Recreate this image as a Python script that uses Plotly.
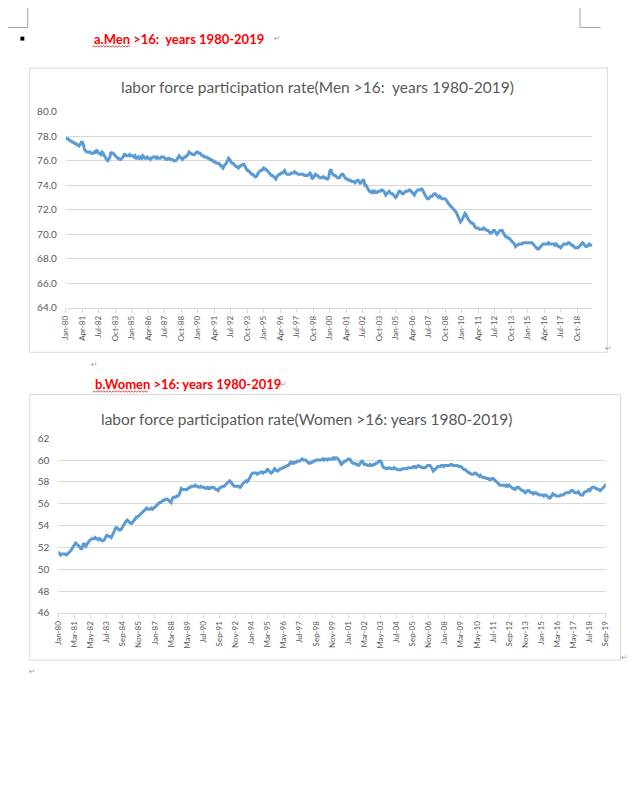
import plotly.graph_objects as go

W, H = 637, 785
OFF = 8  # page body margin that offsets the figure inside the browser window

MONTHS = ["Jan", "Feb", "Mar", "Apr", "May", "Jun", "Jul", "Aug", "Sep", "Oct", "Nov", "Dec"]
YEARS = list(range(1980, 2020))

# Labor force participation rate, men 16+ (monthly, Jan-1980 .. Dec-2019)
men_lfpr = [
    77.9, 77.8, 77.8, 77.7, 77.6, 77.6, 77.5, 77.5, 77.4, 77.4, 77.3, 77.3,  # 1980
    77.2, 77.3, 77.5, 77.5, 77.3, 76.9, 76.8, 76.7, 76.7, 76.7, 76.7, 76.6,  # 1981
    76.6, 76.6, 76.7, 76.6, 76.9, 76.7, 76.6, 76.6, 76.5, 76.7, 76.6, 76.4,  # 1982
    76.2, 76.1, 76.0, 76.1, 76.3, 76.7, 76.6, 76.6, 76.5, 76.4, 76.3, 76.2,  # 1983
    76.2, 76.1, 76.1, 76.2, 76.3, 76.5, 76.5, 76.4, 76.4, 76.4, 76.5, 76.4,  # 1984
    76.4, 76.4, 76.3, 76.4, 76.2, 76.2, 76.3, 76.2, 76.3, 76.2, 76.4, 76.3,  # 1985
    76.2, 76.2, 76.3, 76.2, 76.2, 76.1, 76.2, 76.3, 76.3, 76.3, 76.2, 76.3,  # 1986
    76.2, 76.2, 76.2, 76.3, 76.3, 76.3, 76.2, 76.1, 76.1, 76.2, 76.2, 76.1,  # 1987
    76.1, 76.1, 76.0, 76.0, 76.0, 76.1, 76.3, 76.4, 76.3, 76.2, 76.1, 76.2,  # 1988
    76.3, 76.3, 76.4, 76.5, 76.7, 76.6, 76.6, 76.5, 76.5, 76.5, 76.6, 76.7,  # 1989
    76.7, 76.6, 76.6, 76.5, 76.4, 76.4, 76.3, 76.3, 76.3, 76.2, 76.2, 76.1,  # 1990
    76.1, 76.0, 76.0, 75.9, 75.9, 75.8, 75.8, 75.8, 75.7, 75.6, 75.5, 75.4,  # 1991
    75.6, 75.7, 75.8, 76.0, 76.2, 76.1, 75.9, 75.8, 75.8, 75.7, 75.6, 75.5,  # 1992
    75.5, 75.4, 75.5, 75.6, 75.6, 75.7, 75.7, 75.5, 75.3, 75.2, 75.2, 75.1,  # 1993
    75.0, 74.9, 74.9, 74.8, 74.7, 74.7, 74.8, 75.0, 75.1, 75.2, 75.2, 75.3,  # 1994
    75.4, 75.3, 75.3, 75.2, 75.1, 75.0, 74.9, 74.8, 74.8, 74.7, 74.6, 74.5,  # 1995
    74.7, 74.8, 74.9, 74.9, 75.0, 75.0, 75.1, 75.2, 75.0, 74.9, 74.9, 74.9,  # 1996
    74.9, 75.0, 75.0, 75.0, 75.1, 75.0, 75.0, 74.9, 74.9, 74.9, 74.9, 74.9,  # 1997
    74.9, 74.8, 74.8, 74.8, 74.8, 74.9, 75.0, 74.9, 74.5, 74.6, 74.8, 74.9,  # 1998
    74.8, 74.8, 74.7, 74.6, 74.6, 74.6, 74.7, 74.6, 74.6, 74.5, 74.5, 74.6,  # 1999
    75.1, 75.3, 75.0, 74.9, 74.8, 74.8, 74.7, 74.6, 74.6, 74.6, 74.8, 74.9,  # 2000
    74.9, 74.7, 74.6, 74.5, 74.5, 74.4, 74.4, 74.4, 74.3, 74.3, 74.3, 74.2,  # 2001
    74.3, 74.4, 74.4, 74.2, 74.1, 74.3, 74.4, 74.4, 74.0, 74.0, 73.8, 73.6,  # 2002
    73.5, 73.5, 73.4, 73.5, 73.4, 73.5, 73.4, 73.4, 73.5, 73.5, 73.5, 73.6,  # 2003
    73.6, 73.5, 73.4, 73.2, 73.3, 73.4, 73.5, 73.4, 73.3, 73.3, 73.2, 73.1,  # 2004
    73.0, 73.1, 73.3, 73.5, 73.5, 73.4, 73.3, 73.3, 73.4, 73.5, 73.5, 73.5,  # 2005
    73.6, 73.6, 73.5, 73.4, 73.3, 73.2, 73.4, 73.5, 73.6, 73.6, 73.6, 73.7,  # 2006
    73.7, 73.5, 73.3, 73.2, 73.0, 72.9, 72.9, 73.0, 73.1, 73.1, 73.2, 73.3,  # 2007
    73.3, 73.2, 73.1, 73.0, 73.1, 73.0, 72.9, 72.9, 72.9, 72.9, 72.8, 72.6,  # 2008
    72.5, 72.4, 72.3, 72.2, 72.1, 72.0, 71.9, 71.8, 71.6, 71.4, 71.2, 71.0,  # 2009
    71.1, 71.3, 71.5, 71.7, 71.6, 71.3, 71.2, 71.1, 71.0, 70.9, 70.9, 70.8,  # 2010
    70.6, 70.5, 70.5, 70.5, 70.4, 70.4, 70.4, 70.4, 70.5, 70.4, 70.4, 70.3,  # 2011
    70.3, 70.2, 70.1, 70.1, 70.2, 70.3, 70.3, 70.1, 70.0, 70.1, 70.2, 70.3,  # 2012
    70.3, 70.3, 70.1, 69.9, 69.8, 69.8, 69.7, 69.7, 69.6, 69.5, 69.4, 69.3,  # 2013
    69.2, 69.0, 69.1, 69.1, 69.2, 69.2, 69.2, 69.2, 69.3, 69.3, 69.3, 69.3,  # 2014
    69.3, 69.3, 69.3, 69.3, 69.3, 69.2, 69.1, 69.0, 68.9, 68.8, 68.8, 68.9,  # 2015
    69.0, 69.1, 69.2, 69.2, 69.2, 69.2, 69.2, 69.3, 69.2, 69.2, 69.2, 69.2,  # 2016
    69.2, 69.1, 69.2, 69.1, 69.0, 69.0, 68.9, 69.0, 69.1, 69.2, 69.2, 69.2,  # 2017
    69.2, 69.3, 69.3, 69.2, 69.1, 69.1, 69.0, 68.9, 68.9, 68.9, 68.9, 69.0,  # 2018
    69.1, 69.2, 69.3, 69.2, 69.1, 69.0, 69.0, 69.1, 69.2, 69.1, 69.1, 69.1,  # 2019
]

# Labor force participation rate, women 16+ (monthly, Jan-1980 .. Sep-2019)
women_lfpr = [
    51.6, 51.4, 51.3, 51.4, 51.4, 51.4, 51.4, 51.3, 51.4, 51.5, 51.6, 51.7,  # 1980
    51.9, 52.1, 52.2, 52.4, 52.3, 52.2, 52.1, 52.0, 51.8, 52.0, 52.4, 52.2,  # 1981
    52.1, 52.3, 52.5, 52.6, 52.7, 52.8, 52.8, 52.8, 52.9, 52.8, 52.8, 52.7,  # 1982
    52.8, 52.7, 52.6, 52.6, 52.7, 52.9, 53.1, 53.1, 53.0, 53.0, 52.9, 53.1,  # 1983
    53.3, 53.5, 53.8, 53.8, 53.7, 53.6, 53.6, 53.7, 53.9, 54.1, 54.3, 54.4,  # 1984
    54.5, 54.4, 54.3, 54.2, 54.2, 54.4, 54.5, 54.6, 54.8, 54.8, 54.9, 55.0,  # 1985
    55.1, 55.2, 55.3, 55.4, 55.5, 55.6, 55.5, 55.5, 55.5, 55.6, 55.5, 55.6,  # 1986
    55.7, 55.8, 55.9, 56.0, 56.1, 56.1, 56.2, 56.3, 56.3, 56.4, 56.4, 56.4,  # 1987
    56.3, 56.2, 56.1, 56.4, 56.6, 56.6, 56.6, 56.7, 56.7, 56.8, 57.1, 57.4,  # 1988
    57.3, 57.3, 57.3, 57.3, 57.3, 57.4, 57.5, 57.5, 57.6, 57.6, 57.6, 57.7,  # 1989
    57.6, 57.6, 57.5, 57.5, 57.6, 57.5, 57.5, 57.5, 57.4, 57.4, 57.5, 57.4,  # 1990
    57.4, 57.5, 57.5, 57.5, 57.4, 57.3, 57.3, 57.2, 57.4, 57.5, 57.5, 57.6,  # 1991
    57.6, 57.7, 57.8, 57.9, 58.0, 58.1, 58.0, 57.8, 57.7, 57.6, 57.6, 57.6,  # 1992
    57.6, 57.6, 57.5, 57.6, 57.8, 57.9, 58.0, 58.1, 58.0, 58.1, 58.3, 58.6,  # 1993
    58.7, 58.8, 58.8, 58.8, 58.8, 58.7, 58.8, 58.8, 58.9, 58.9, 58.8, 58.9,  # 1994
    58.9, 59.0, 59.2, 59.0, 58.9, 58.8, 58.9, 59.0, 59.2, 59.1, 59.0, 59.0,  # 1995
    59.1, 59.2, 59.2, 59.3, 59.3, 59.4, 59.4, 59.5, 59.5, 59.7, 59.8, 59.7,  # 1996
    59.8, 59.7, 59.8, 59.8, 59.9, 59.9, 59.9, 60.0, 60.1, 60.0, 60.0, 60.0,  # 1997
    59.9, 59.8, 59.7, 59.7, 59.8, 59.8, 59.9, 59.9, 60.0, 60.0, 60.0, 60.0,  # 1998
    60.0, 60.0, 60.1, 60.0, 60.1, 60.1, 60.0, 60.1, 60.1, 60.1, 60.1, 60.2,  # 1999
    60.1, 60.2, 60.2, 60.1, 60.0, 59.8, 59.6, 59.7, 59.8, 59.9, 59.9, 60.0,  # 2000
    60.1, 60.1, 60.0, 59.8, 59.7, 59.7, 59.7, 59.6, 59.6, 59.5, 59.6, 59.8,  # 2001
    59.9, 59.8, 59.6, 59.6, 59.6, 59.5, 59.5, 59.6, 59.5, 59.5, 59.6, 59.6,  # 2002
    59.7, 59.7, 59.8, 59.9, 59.9, 59.8, 59.4, 59.3, 59.3, 59.2, 59.2, 59.3,  # 2003
    59.3, 59.2, 59.2, 59.2, 59.3, 59.2, 59.2, 59.1, 59.1, 59.1, 59.1, 59.2,  # 2004
    59.2, 59.2, 59.2, 59.2, 59.3, 59.3, 59.3, 59.3, 59.3, 59.4, 59.4, 59.3,  # 2005
    59.4, 59.5, 59.4, 59.4, 59.3, 59.3, 59.3, 59.3, 59.4, 59.5, 59.5, 59.5,  # 2006
    59.4, 59.2, 59.0, 59.1, 59.2, 59.3, 59.4, 59.4, 59.4, 59.5, 59.5, 59.4,  # 2007
    59.5, 59.5, 59.5, 59.5, 59.5, 59.6, 59.6, 59.5, 59.5, 59.5, 59.5, 59.5,  # 2008
    59.4, 59.4, 59.4, 59.3, 59.2, 59.1, 59.1, 59.0, 58.9, 58.8, 58.8, 58.7,  # 2009
    58.7, 58.7, 58.8, 58.8, 58.7, 58.6, 58.5, 58.6, 58.5, 58.4, 58.4, 58.4,  # 2010
    58.3, 58.3, 58.3, 58.2, 58.2, 58.3, 58.3, 58.2, 58.1, 58.0, 57.9, 57.8,  # 2011
    57.7, 57.7, 57.7, 57.7, 57.7, 57.6, 57.7, 57.6, 57.7, 57.6, 57.5, 57.4,  # 2012
    57.4, 57.3, 57.4, 57.5, 57.5, 57.4, 57.3, 57.2, 57.2, 57.1, 57.0, 57.1,  # 2013
    57.2, 57.2, 57.1, 57.0, 57.0, 56.9, 57.0, 57.0, 56.9, 56.9, 56.8, 56.8,  # 2014
    56.8, 56.8, 56.7, 56.8, 56.8, 56.7, 56.6, 56.5, 56.6, 56.8, 56.9, 56.8,  # 2015
    56.8, 56.7, 56.7, 56.7, 56.7, 56.8, 56.8, 56.8, 56.9, 57.0, 57.0, 57.0,  # 2016
    57.0, 57.1, 57.2, 57.2, 57.1, 57.0, 57.0, 57.0, 57.1, 56.9, 56.8, 56.8,  # 2017
    56.8, 57.0, 57.1, 57.1, 57.2, 57.3, 57.2, 57.4, 57.5, 57.5, 57.5, 57.4,  # 2018
    57.4, 57.3, 57.3, 57.2, 57.3, 57.4, 57.5, 57.6, 57.8,                    # 2019
]

month_labels = [f"{m}-{str(y)[2:]}" for y in YEARS for m in MONTHS]
men_x = month_labels[:len(men_lfpr)]
women_x = month_labels[:len(women_lfpr)]
men_tick_labels = men_x[::15]
women_tick_labels = women_x[::14]

men_title = "labor force participation rate(Men >16:\u00a0 years 1980-2019)"
women_title = "labor force participation rate(Women >16: years 1980-2019)"
men_heading = "a.Men >16:\u00a0 years 1980-2019"
women_heading = "b.Women >16: years 1980-2019"

LINE = "#5B9BD5"
GRID = "#D9D9D9"
TXT = "#595959"
FONT = "Lato"


def px(x):
    return (x - OFF) / W


def py(y):
    return 1 - (y - OFF) / H


fig = go.Figure()
fig.add_trace(go.Scatter(x=men_x, y=men_lfpr, mode="lines",
                         line=dict(color=LINE, width=3), xaxis="x", yaxis="y",
                         showlegend=False, hoverinfo="skip"))
fig.add_trace(go.Scatter(x=women_x, y=women_lfpr, mode="lines",
                         line=dict(color=LINE, width=3), xaxis="x2", yaxis="y2",
                         showlegend=False, hoverinfo="skip"))

xcommon = dict(type="category", tickmode="array", tickangle=-90, showgrid=False,
               showline=True, linecolor=GRID, linewidth=1, ticks="outside",
               ticklen=4, tickcolor=GRID, tickfont=dict(family=FONT, size=8, color=TXT),
               zeroline=False, fixedrange=True)
ycommon = dict(showgrid=True, gridcolor=GRID, gridwidth=1, zeroline=False,
               showline=False, ticks="", dtick=2, ticklabelstandoff=8,
               tickfont=dict(family=FONT, size=10, color=TXT), fixedrange=True)

fig.update_layout(
    width=W, height=H,
    margin=dict(l=0, r=0, t=0, b=0),
    paper_bgcolor="white", plot_bgcolor="white",
    xaxis=dict(xcommon, domain=[px(61.7), px(596.7)], anchor="y",
               range=[0, len(men_x) - 1], tickvals=men_tick_labels),
    yaxis=dict(ycommon, domain=[py(305.7), py(106.3)], anchor="x",
               range=[64, 80], tickformat=".1f"),
    xaxis2=dict(xcommon, domain=[px(54), px(610.3)], anchor="y2",
                range=[0, len(women_x) - 1], tickvals=women_tick_labels),
    yaxis2=dict(ycommon, domain=[py(616), py(438.3)], anchor="x2",
                range=[46, 62], tickformat="d"),
)

shapes = []
# chart frames
for (x0, y0, x1, y1) in [(24.7, 62, 611.8, 351), (25, 394, 625.3, 664)]:
    shapes.append(dict(type="rect", xref="paper", yref="paper",
                       x0=px(x0), x1=px(x1), y0=py(y1), y1=py(y0),
                       line=dict(color=GRID, width=1), fillcolor="rgba(0,0,0,0)"))
# page corner marks
for (xa, ya, xb, yb) in [(23, 0, 23, 20.7), (3, 20.7, 23, 20.7),
                         (584, 0, 584, 20.7), (584, 20.7, 605, 20.7)]:
    shapes.append(dict(type="line", xref="paper", yref="paper",
                       x0=px(xa), x1=px(xb), y0=py(ya), y1=py(yb),
                       line=dict(color="#A6A6A6", width=1)))
# bullet square
shapes.append(dict(type="rect", xref="paper", yref="paper",
                   x0=px(15.5), x1=px(19.5), y0=py(34), y1=py(30),
                   line=dict(width=0), fillcolor="black"))


# red spell-check squiggles
def squiggle(xs, xe, yb):
    pts = []
    x = xs
    up = False
    while x <= xe:
        pts.append((x, yb - (1.2 if up else 0)))
        up = not up
        x += 1.6
    d = "M " + " L ".join(f"{px(a):.5f},{py(b):.5f}" for a, b in pts)
    return dict(type="path", xref="paper", yref="paper", path=d,
                line=dict(color="#E0201E", width=0.8))


shapes.append(squiggle(88.6, 128, 40.5))
shapes.append(squiggle(89, 146.5, 391.5))
fig.update_layout(shapes=shapes)

ann = []
ann.append(dict(text=men_heading, x=px(88.6), y=py(32), xanchor="left", yanchor="middle",
                font=dict(family=FONT, size=13, color="#FF0000", weight="bold")))
ann.append(dict(text=women_heading, x=px(89), y=py(383.3), xanchor="left", yanchor="middle",
                font=dict(family=FONT, size=13, color="#FF0000", weight="bold")))
ann.append(dict(text=men_title, x=px(317), y=py(81.7), xanchor="center", yanchor="middle",
                font=dict(family=FONT, size=15.5, color=TXT)))
ann.append(dict(text=women_title, x=px(306.5), y=py(418.3), xanchor="center", yanchor="middle",
                font=dict(family=FONT, size=15.5, color=TXT)))
for (x, y) in [(277, 32), (613, 347), (91, 363), (283, 383.3), (629, 661), (28, 676)]:
    ann.append(dict(text="\u21b5", x=px(x), y=py(y), xanchor="center", yanchor="middle",
                    font=dict(family="DejaVu Sans", size=8, color="#A0A0A0")))
for a in ann:
    a.update(xref="paper", yref="paper", showarrow=False)
fig.update_layout(annotations=ann)

fig.write_html("out.html")
